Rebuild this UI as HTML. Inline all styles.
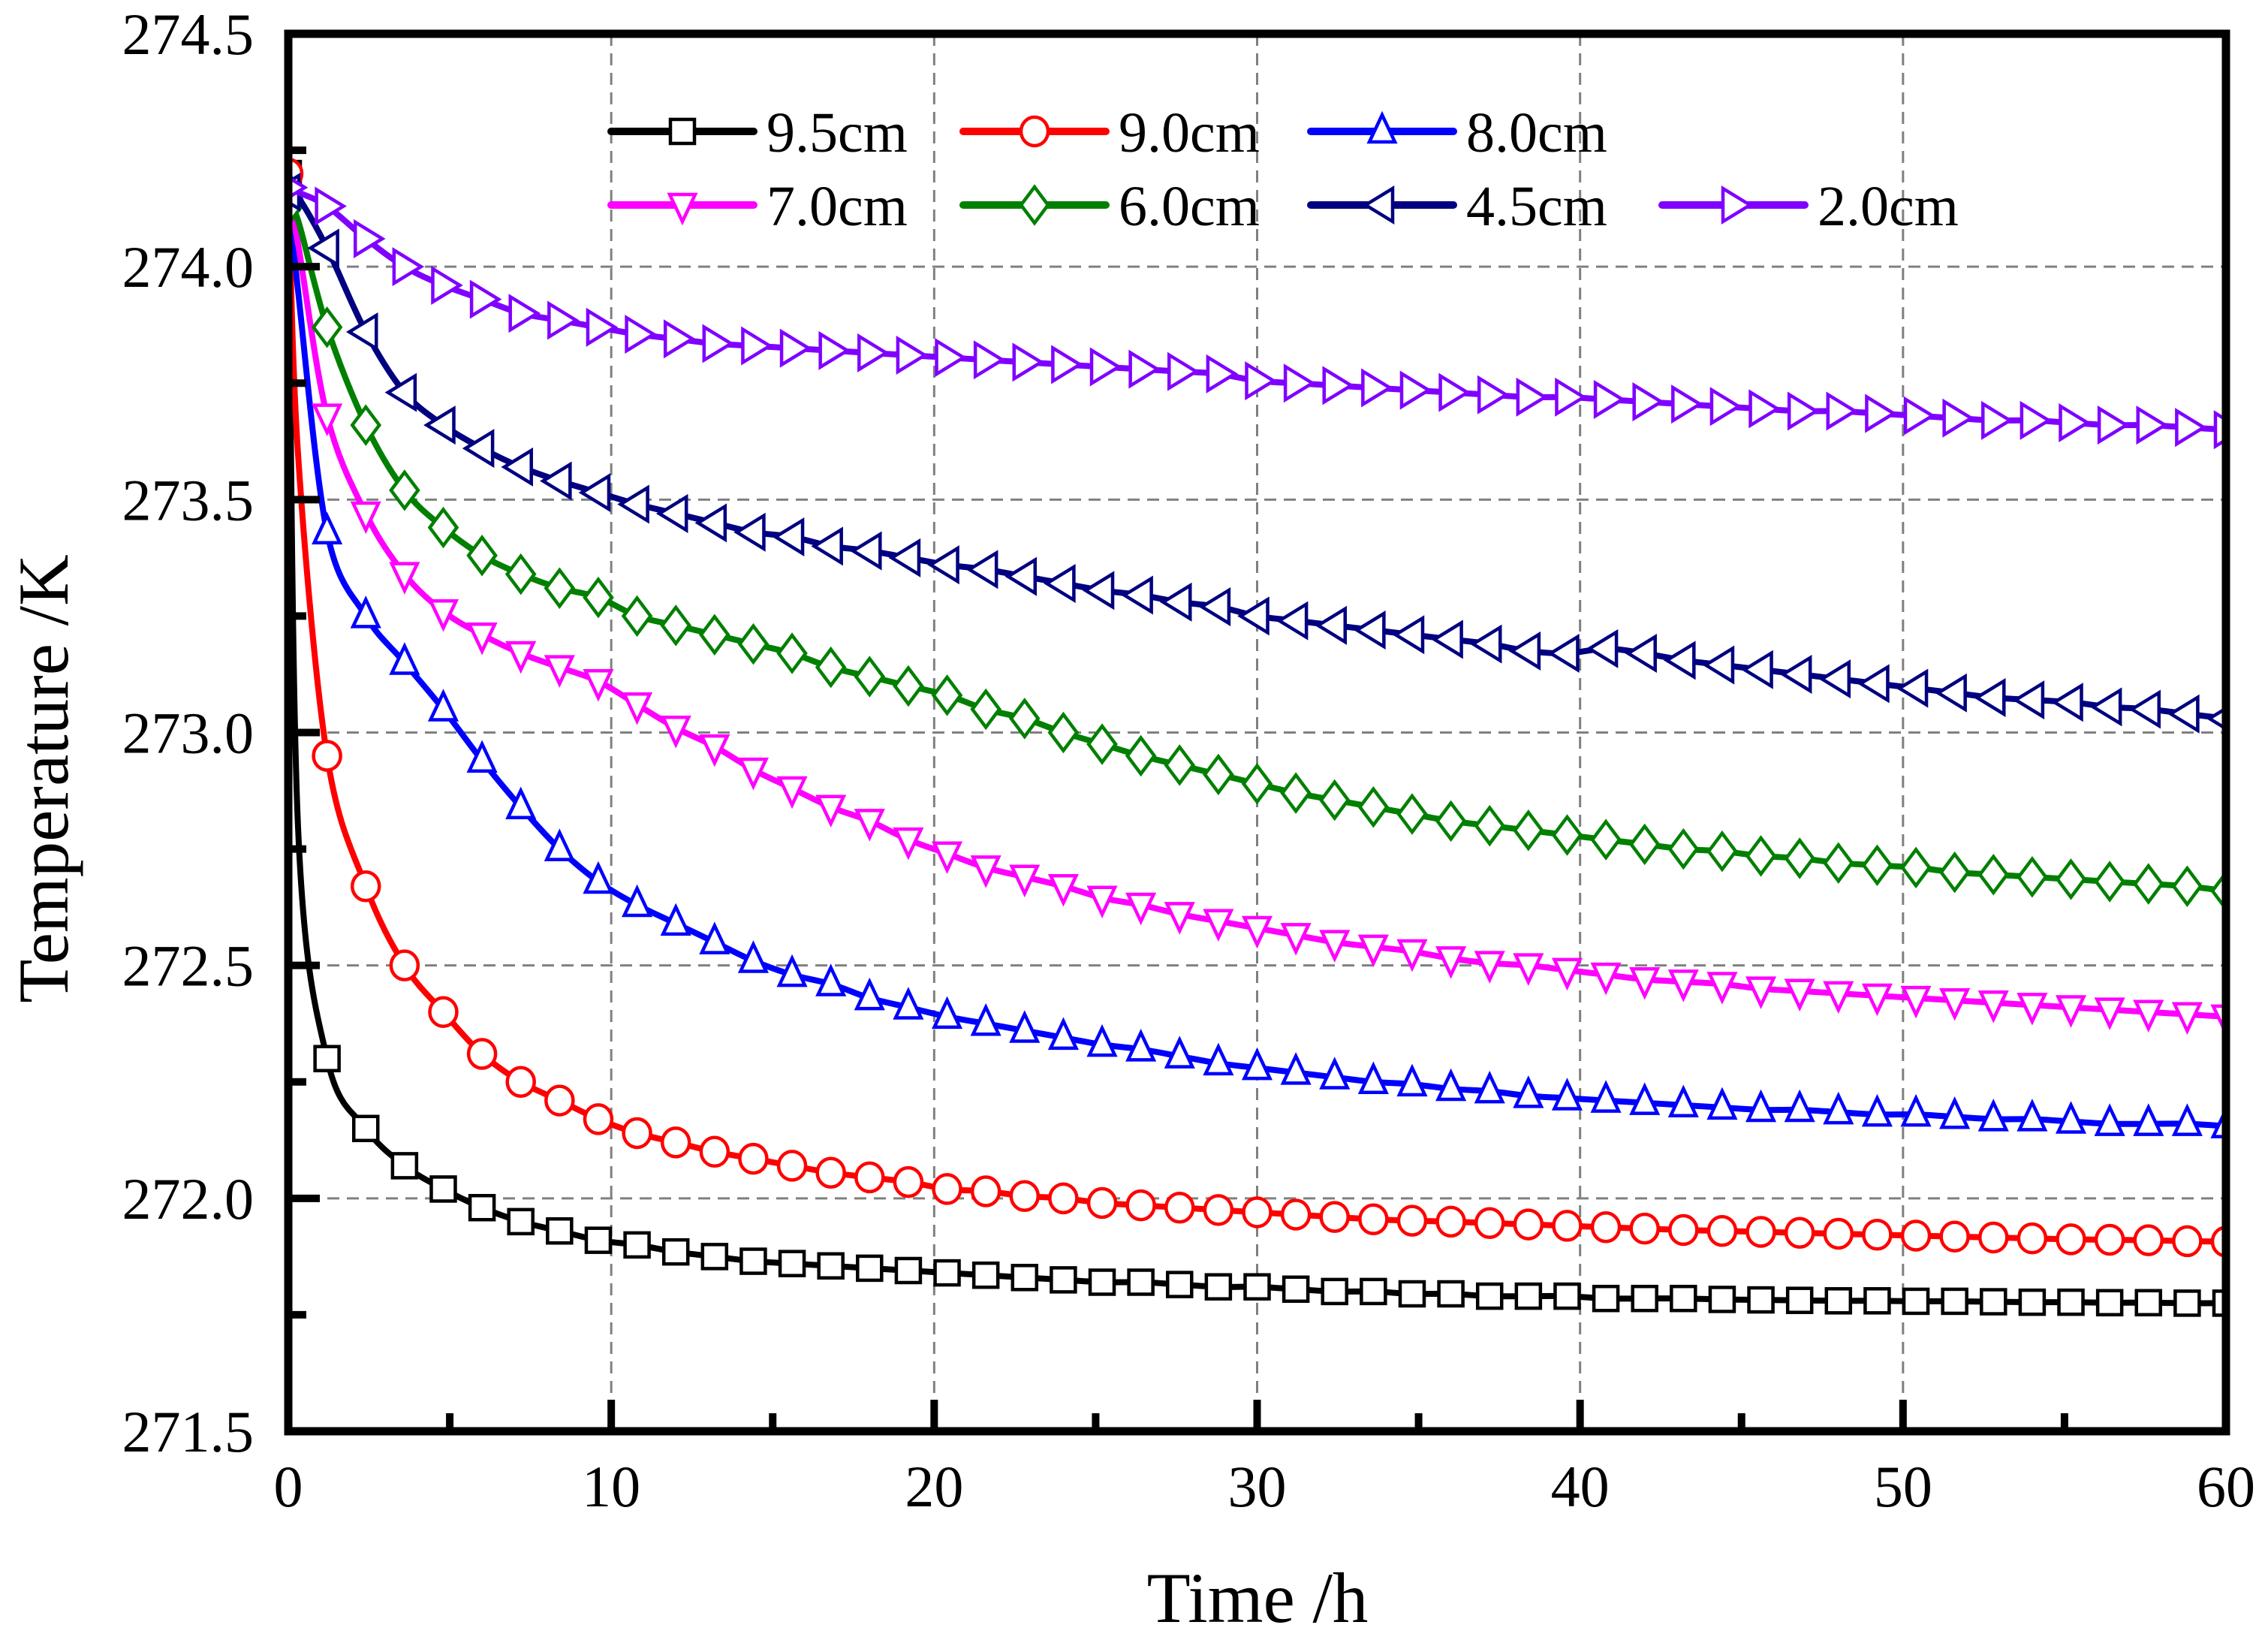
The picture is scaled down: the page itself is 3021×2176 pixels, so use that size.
<!DOCTYPE html>
<html><head><meta charset="utf-8"><style>
html,body{margin:0;padding:0;background:#fff;}
svg{display:block;font-family:"Liberation Serif",serif;}
</style></head><body>
<svg id="chart" width="3021" height="2176" viewBox="0 0 3021 2176" xmlns="http://www.w3.org/2000/svg">
<rect width="3021" height="2176" fill="#fff"/>
<g id="grid"></g>
<g id="series"></g>
<g id="axes"></g>
<g id="legend"></g>
<text x="1675" y="2160" font-size="95" text-anchor="middle">Time /h</text>
<text x="0" y="0" font-size="95" text-anchor="middle" transform="translate(90,1037) rotate(-90)">Temperature /K</text>
</svg>
<script>
const times=[0,0.3,1.2,2.4,3.6,4.8,6,7.2,8.4,9.6,10.8,12,13.2,14.4,15.6,16.8,18,19.2,20.4,21.6,22.8,24,25.2,26.4,27.6,28.8,30,31.2,32.4,33.6,34.8,36,37.2,38.4,39.6,40.8,42,43.2,44.4,45.6,46.8,48,49.2,50.4,51.6,52.8,54,55.2,56.4,57.6,58.8,60];
const seriesNames=["9.5cm","9.0cm","8.0cm","7.0cm","6.0cm","4.5cm","2.0cm"];
const s95=[274.2,272.8,272.3,272.15,272.07,272.02,271.98,271.95,271.93,271.91,271.9,271.885,271.875,271.865,271.86,271.855,271.85,271.845,271.84,271.835,271.83,271.825,271.82,271.82,271.815,271.81,271.81,271.805,271.8,271.8,271.795,271.795,271.79,271.79,271.79,271.785,271.785,271.785,271.783,271.782,271.781,271.78,271.78,271.779,271.779,271.778,271.777,271.777,271.776,271.776,271.775,271.775];
const s90=[274.2,273.6,272.95,272.67,272.5,272.4,272.31,272.25,272.21,272.17,272.14,272.12,272.1,272.085,272.07,272.055,272.045,272.035,272.02,272.015,272.005,272.0,271.99,271.985,271.98,271.975,271.97,271.965,271.96,271.955,271.952,271.95,271.947,271.944,271.941,271.938,271.935,271.932,271.93,271.928,271.926,271.924,271.922,271.92,271.918,271.916,271.914,271.912,271.911,271.91,271.908,271.907];
const s80=[274.17,273.95,273.43,273.25,273.15,273.05,272.94,272.84,272.75,272.68,272.63,272.59,272.55,272.51,272.48,272.46,272.43,272.41,272.39,272.375,272.36,272.345,272.33,272.32,272.305,272.29,272.28,272.27,272.26,272.25,272.245,272.235,272.23,272.22,272.215,272.21,272.205,272.2,272.195,272.19,272.19,272.185,272.18,272.18,272.175,272.17,272.17,272.165,272.16,272.16,272.16,272.155];
const s70=[274.15,274.05,273.68,273.47,273.34,273.26,273.21,273.17,273.14,273.11,273.06,273.01,272.97,272.92,272.88,272.84,272.81,272.77,272.74,272.71,272.69,272.67,272.645,272.63,272.61,272.595,272.58,272.565,272.55,272.54,272.53,272.515,272.505,272.5,272.49,272.48,272.47,272.465,272.46,272.45,272.445,272.44,272.435,272.43,272.425,272.42,272.415,272.41,272.405,272.4,272.395,272.39];
const s60=[274.13,274.1,273.87,273.66,273.52,273.44,273.38,273.34,273.31,273.29,273.25,273.23,273.21,273.19,273.17,273.14,273.12,273.1,273.08,273.05,273.03,273.0,272.975,272.95,272.93,272.91,272.89,272.87,272.855,272.84,272.825,272.81,272.8,272.79,272.78,272.77,272.76,272.75,272.745,272.735,272.73,272.72,272.715,272.71,272.7,272.695,272.69,272.685,272.68,272.675,272.67,272.66];
const s45=[274.16,274.15,274.04,273.86,273.73,273.66,273.61,273.57,273.54,273.515,273.49,273.47,273.45,273.43,273.42,273.4,273.39,273.375,273.36,273.35,273.335,273.32,273.305,273.295,273.28,273.27,273.25,273.24,273.23,273.22,273.21,273.2,273.19,273.175,273.17,273.18,273.17,273.155,273.145,273.135,273.125,273.115,273.105,273.095,273.085,273.075,273.07,273.065,273.055,273.05,273.04,273.03];
const s20=[274.17,274.16,274.13,274.06,274.0,273.96,273.93,273.9,273.885,273.87,273.855,273.845,273.835,273.83,273.825,273.82,273.815,273.81,273.805,273.8,273.795,273.79,273.785,273.78,273.775,273.77,273.755,273.75,273.745,273.74,273.735,273.73,273.725,273.72,273.72,273.715,273.71,273.705,273.7,273.695,273.69,273.69,273.685,273.68,273.675,273.67,273.67,273.665,273.66,273.66,273.655,273.65];
const xTicks=[0,10,20,30,40,50,60];
const yTicks=[271.5,272.0,272.5,273.0,273.5,274.0,274.5];
const yTickLabels=["271.5","272.0","272.5","273.0","273.5","274.0","274.5"];

const NS="http://www.w3.org/2000/svg";
const L=384,R=2965,T=45,B=1906;
const X=v=>L+(v-0)/(60-0)*(R-L);
const Y=v=>B-(v-271.5)/(274.5-271.5)*(B-T);
function mk(tag,attrs,parent){const e=document.createElementNS(NS,tag);for(const k in attrs)e.setAttribute(k,attrs[k]);parent.appendChild(e);return e;}
const grid=document.getElementById('grid'),axes=document.getElementById('axes'),ser=document.getElementById('series'),leg=document.getElementById('legend');

xTicks.forEach(v=>{if(v>0&&v<60){const g=mk('line',{x1:X(v),x2:X(v),y1:T,y2:B,stroke:'#808080','stroke-width':3,'stroke-dasharray':'16 10'},grid);

}});
yTicks.forEach(v=>{if(v>271.5&&v<274.5){const g=mk('line',{x1:L,x2:R,y1:Y(v),y2:Y(v),stroke:'#808080','stroke-width':3,'stroke-dasharray':'16 10'},grid);

}});

const styles=[
 {c:'#000000',m:'square',d:s95},
 {c:'#ff0000',m:'circle',d:s90},
 {c:'#0000ff',m:'up',d:s80},
 {c:'#ff00ff',m:'down',d:s70},
 {c:'#008000',m:'diamond',d:s60},
 {c:'#000080',m:'left',d:s45},
 {c:'#8000ff',m:'right',d:s20}];
function marker(type,x,y,c,parent){
 const s=18;let e;const a={fill:'#fff',stroke:c,'stroke-width':4.5};
 if(type==='square'){e=mk('rect',Object.assign({x:x-16,y:y-16,width:32,height:32},a),parent);}
 else if(type==='circle'){e=mk('ellipse',Object.assign({cx:x,cy:y,rx:18,ry:19},a),parent);}
 else{let p;
  if(type==='up')p=[[x,y-22],[x-17,y+14],[x+17,y+14]];
  if(type==='down')p=[[x,y+22],[x-17,y-14],[x+17,y-14]];
  if(type==='left')p=[[x-22,y],[x+14,y-22],[x+14,y+22]];
  if(type==='right')p=[[x+22,y],[x-14,y-22],[x-14,y+22]];
  if(type==='diamond')p=[[x,y-24],[x+18,y],[x,y+24],[x-18,y]];
  e=mk('polygon',Object.assign({points:p.map(q=>q.join(',')).join(' ')},a),parent);}
 return e;}

styles.forEach((st,si)=>{
 const g=mk('g',{},ser);
 
 
 const cp=mk('clipPath',{id:'clip'+si},g);mk('rect',{x:L,y:T,width:R-L,height:B-T},cp);
 const pts=times.map((t,i)=>[X(t),Y(st.d[i])]);
 let dstr='M'+pts[0][0]+','+pts[0][1];
 for(let i=1;i<pts.length;i++){const p0=pts[Math.max(0,i-2)],p1=pts[i-1],p2=pts[i],p3=pts[Math.min(pts.length-1,i+1)];
  const c1=[p1[0]+(p2[0]-p0[0])/6,p1[1]+(p2[1]-p0[1])/6],c2=[p2[0]-(p3[0]-p1[0])/6,p2[1]-(p3[1]-p1[1])/6];
  dstr+=' C'+c1.join(',')+' '+c2.join(',')+' '+p2.join(',');}
 const ln=mk('path',{d:dstr,fill:'none',stroke:st.c,'stroke-width':8,'clip-path':'url(#clip'+si+')'},g);
 
 
 times.forEach((t,i)=>{if(i===1)return;const m=marker(st.m,X(t),Y(st.d[i]),st.c,g);
  m.setAttribute('clip-path','url(#clip'+si+')');
  
  });
});

// frame
const fr=mk('rect',{x:L,y:T,width:R-L,height:B-T,fill:'none',stroke:'#000','stroke-width':11},axes);


xTicks.forEach((v,i)=>{const tk=mk('line',{x1:X(v),x2:X(v),y1:B,y2:B-42,stroke:'#000','stroke-width':10},axes);
 
 
 if(v<60){const m=mk('line',{x1:X(v+5),x2:X(v+5),y1:B,y2:B-24,stroke:'#000','stroke-width':10},axes);
 
 }
 const tx=mk('text',{x:X(v),y:B+100,'font-size':78,'text-anchor':'middle'},axes);tx.textContent=String(v);
 
 });
yTicks.forEach((v,i)=>{const tk=mk('line',{x1:L,x2:L+42,y1:Y(v),y2:Y(v),stroke:'#000','stroke-width':10},axes);
 
 
 if(v<274.5){const m=mk('line',{x1:L,x2:L+24,y1:Y(v+0.25),y2:Y(v+0.25),stroke:'#000','stroke-width':10},axes);
 
 }
 const tx=mk('text',{x:338,y:Y(v)+27,'font-size':78,'text-anchor':'end'},axes);tx.textContent=yTickLabels[i];
 
 });

// legend
const legPos=[[814,175],[1283,175],[1746,175],[814,273],[1283,273],[1746,273],[2214,273]];
styles.forEach((st,si)=>{const [lx,ly]=legPos[si];
 const g=mk('g',{},leg);
 
 
 mk('line',{x1:lx,x2:lx+190,y1:ly,y2:ly,stroke:st.c,'stroke-width':10,'stroke-linecap':'round'},g);
 marker(st.m,lx+95,ly,st.c,g);
 const tx=mk('text',{x:lx+207,y:ly+27,'font-size':76},g);tx.textContent=seriesNames[si];});
</script>
</body></html>
